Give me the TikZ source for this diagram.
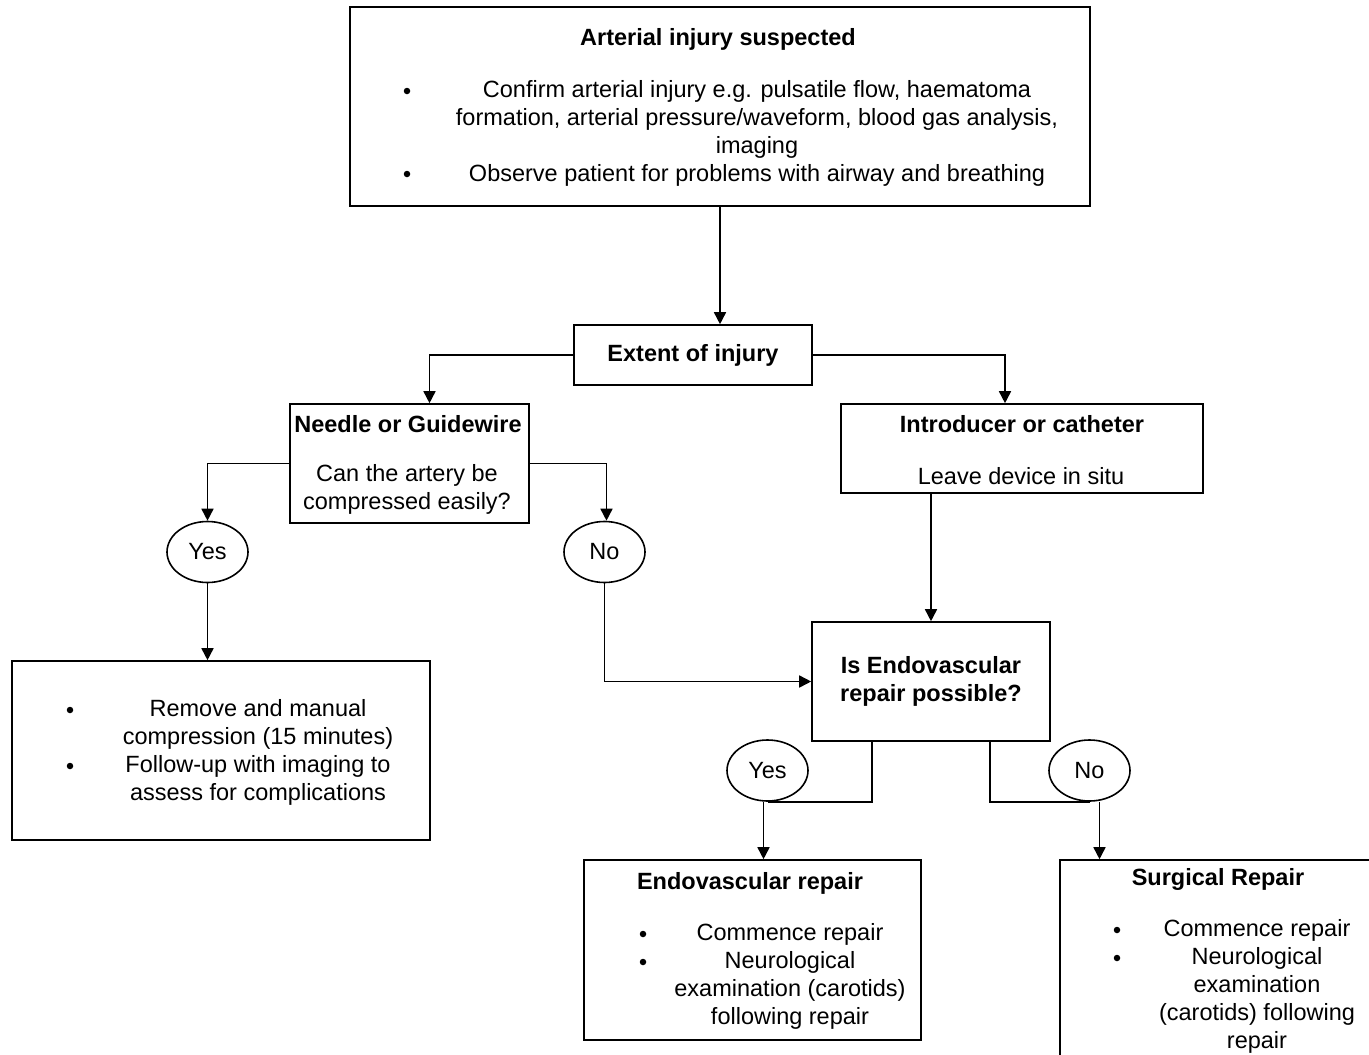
\documentclass[tikz,border=0pt]{standalone}
\usepackage{fontspec}
\setmainfont{Liberation Sans}
\usetikzlibrary{shapes.geometric,arrows.meta,calc}
\begin{document}
\begin{tikzpicture}[x=1pt,y=-1pt,
  box/.style={draw,line width=1.6pt,inner sep=0pt,rectangle},
  txt/.style={font=\fontsize{23.5}{28}\selectfont,align=center,inner sep=0pt},
  ttl/.style={font=\fontsize{23.5}{28}\selectfont\bfseries,align=center,inner sep=0pt},
  oval/.style={draw,ellipse,line width=1.6pt,minimum width=81pt,minimum height=61pt,inner sep=0pt,font=\fontsize{23.5}{28}\selectfont},
  bul/.style={circle,fill,inner sep=0pt,minimum size=6.5pt},
  conn/.style={line width=1.6pt},
  arr/.style={conn,-{Triangle[length=12pt,width=12pt]}}]
\useasboundingbox (0,0) rectangle (1369,1055);
\clip (0,0) rectangle (1369,1055);
\fill[white] (0,0) rectangle (1369,1055);

% boxes
\node[box,minimum width=740pt,minimum height=199pt] (top) at (720,106.5) {};
\node[box,minimum width=238pt,minimum height=60pt,font=\fontsize{23.5}{28}\selectfont\bfseries] (ext) at (693,355) {Extent of injury};
\node[box,minimum width=239pt,minimum height=119pt] (needle) at (409.5,463.5) {};
\node[box,minimum width=362pt,minimum height=89pt] (intro) at (1022,448.5) {};
\node[box,minimum width=418pt,minimum height=179pt] (rem) at (221,750.5) {};
\node[box,minimum width=238pt,minimum height=119pt,font=\fontsize{23.5}{28}\selectfont\bfseries,align=center] (q) at (931,681.5) {Is Endovascular\\repair possible?};
\node[box,minimum width=337pt,minimum height=180pt] (endo) at (752.5,950) {};
\node[box,minimum width=320pt,minimum height=210pt] (surg) at (1220,965) {};

% ovals
\node[oval] (yes1) at (207.5,552) {Yes};
\node[oval] (no1) at (604.5,552) {No};
\node[oval] (yes2) at (767.5,770.5) {Yes};
\node[oval] (no2) at (1089.5,770.5) {No};

% texts
\node[ttl] (toptitle) at (718,39) {Arterial injury suspected};
\node[bul] (tb1) at (407,91) {};
\node[bul] (tb2) at (407,174) {};
\node[txt] (toptext) at (757,133) {Confirm arterial injury e.g. pulsatile flow, haematoma\\formation, arterial pressure/waveform, blood gas analysis,\\imaging\\Observe patient for problems with airway and breathing};

\node[ttl] (needletitle) at (408,424) {Needle or Guidewire};
\node[txt] (needletext) at (407,489.5) {Can the artery be\\compressed easily?};

\node[ttl] (introtitle) at (1022,424) {Introducer or catheter};
\node[txt] (introtext) at (1021,476) {Leave device in situ};

\node[bul] (rb1) at (70,710) {};
\node[bul] (rb2) at (70,766) {};
\node[txt] (remtext) at (258,752) {Remove and manual\\compression (15 minutes)\\Follow-up with imaging to\\assess for complications};

\node[ttl] (endotitle) at (750,883) {Endovascular repair};
\node[bul] (eb1) at (643,934) {};
\node[bul] (eb2) at (643,962) {};
\node[txt] (endotext) at (790,976) {Commence repair\\Neurological\\examination (carotids)\\following repair};

\node[ttl] (surgtitle) at (1218,879) {Surgical Repair};
\node[bul] (sb1) at (1117,930) {};
\node[bul] (sb2) at (1117,958) {};
\node[txt] (surgtext) at (1257,986) {Commence repair\\Neurological\\examination\\(carotids) following\\repair};

% connectors
\draw[arr] (top.south) -- (top.south |- ext.north);
\draw[arr] (ext.west) -| ([xshift=20pt]needle.north);
\draw[arr] (ext.east) -| ([xshift=-17pt]intro.north);
\draw[arr] (needle.west) -| (yes1.north);
\draw[arr] (needle.east) -| ([xshift=2pt]no1.north);
\draw[arr] (yes1.south) -- (yes1.south |- rem.north);
\draw[arr] (no1.south) |- (q.west);
\draw[arr] (q.north |- intro.south) -- (q.north);
\draw[conn] ([xshift=-59pt]q.south) |- (yes2.south);
\draw[arr] ([xshift=-4pt]yes2.south) -- ([xshift=-4pt]yes2.south |- endo.north);
\draw[conn] ([xshift=59pt]q.south) |- (no2.south);
\draw[arr] ([xshift=10pt]no2.south) -- ([xshift=10pt]no2.south |- surg.north);
\end{tikzpicture}
\end{document}
